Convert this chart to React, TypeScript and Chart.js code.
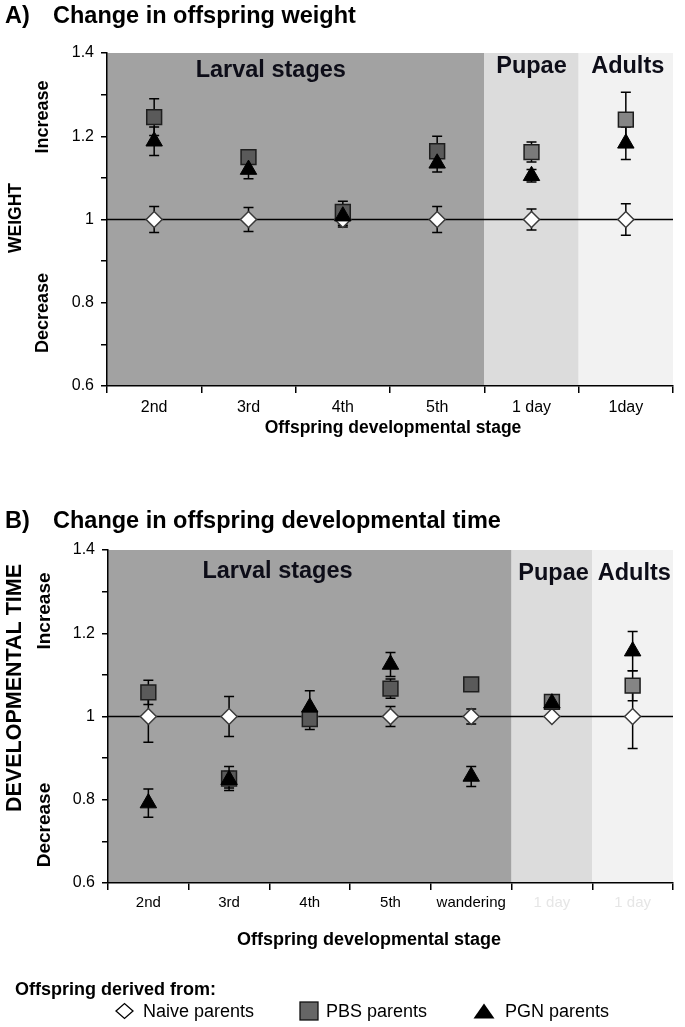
import React, { useEffect, useRef } from 'react';
import { Chart, registerables } from 'chart.js';

Chart.register(...registerables);

const FONT = "'Liberation Sans', Arial, Helvetica, sans-serif";

// ---------- Panel A: offspring weight ----------
const weightCategories = ['2nd', '3rd', '4th', '5th', '1 day', '1day'];
const weightNaive = [1, 1, 1, 1, 1, 1];
const weightNaiveErr = [0.031, 0.029, 0.018, 0.031, 0.025, 0.038];
const weightPBS = [1.246, 1.15, 1.018, 1.164, 1.162, 1.24];
const weightPBSErr = [0.044, 0.017, 0.026, 0.036, 0.024, 0.066];
const weightPGN = [1.188, 1.12, 1.008, 1.135, 1.105, 1.183];
const weightPGNErr = [0.034, 0.022, 0.022, 0.021, 0.015, 0.039];
const weightStageSpans = [4, 1, 1];

// ---------- Panel B: developmental time ----------
const devCategories = ['2nd', '3rd', '4th', '5th', 'wandering', '1 day', '1 day'];
const devNaive = [1, 1, 1, 1, 1, 1, 1];
const devNaiveErr = [0.062, 0.048, 0.022, 0.024, 0.018, 0.006, 0.077];
const devPBS = [1.058, 0.851, 0.994, 1.067, 1.077, 1.035, 1.074];
const devPBSErr = [0.029, 0.029, 0.025, 0.023, 0.014, 0.01, 0.036];
const devPGN = [0.792, 0.848, 1.022, 1.125, 0.856, 1.032, 1.157];
const devPGNErr = [0.034, 0.02, 0.04, 0.029, 0.024, 0.01, 0.047];
const devStageSpans = [5, 1, 1];

// ---------- shared ----------
const stageNames = ['Larval stages', 'Pupae', 'Adults'];
const seriesNames = ['Naive parents', 'PBS parents', 'PGN parents'];
const yTickMin = 0.6;
const yTickMax = 1.4;
const yTickStep = 0.1;

const STAGE_COLORS = ['#a2a2a2', '#dcdcdc', '#f2f2f2'];
const PBS_FILLS = ['#5a5a5a', '#7a7a7a', '#858585'];

type PanelProps = {
  top: number;
  height: number;
  area: { left: number; top: number; right: number; bottom: number };
  categories: string[];
  naive: number[];
  naiveErr: number[];
  pbs: number[];
  pbsErr: number[];
  pgn: number[];
  pgnErr: number[];
  spans: number[];
  tickColors: string[];
  catFont: number;
  catPad: number;
  title: { letter: string; text: string; baseline: number };
  stageLabel: { fracs: number[]; dy: number[] };
  yTitle: { text: string; x: number; cy: number; size: number };
  incr: { x: number; cyInc: number; cyDec: number; size: number };
  xTitle: { cx: number; baseline: number; size: number };
  legend?: { baseline: number; itemBaseline: number; markerY: number };
};

function vText(ctx: CanvasRenderingContext2D, text: string, x: number, cy: number, font: string) {
  ctx.save();
  ctx.translate(x, cy);
  ctx.rotate(-Math.PI / 2);
  ctx.font = font;
  ctx.textAlign = 'center';
  ctx.textBaseline = 'middle';
  ctx.fillStyle = '#000';
  ctx.fillText(text, 0, 0);
  ctx.restore();
}

function stageOf(spans: number[], index: number) {
  let acc = 0;
  for (let k = 0; k < spans.length; k++) {
    acc += spans[k];
    if (index < acc) return k;
  }
  return spans.length - 1;
}

function Panel(p: PanelProps) {
  const ref = useRef<HTMLCanvasElement>(null);

  useEffect(() => {
    const canvas = ref.current;
    if (!canvas) return;
    const errs = [p.naiveErr, p.pbsErr, p.pgnErr];

    const bgPlugin = {
      id: 'stageBg',
      beforeDraw(chart: any) {
        const { ctx, chartArea: a, scales } = chart;
        const x = scales.x;
        const n = chart.data.labels.length;
        const w = (a.right - a.left) / n;
        let start = 0;
        ctx.save();
        p.spans.forEach((span, k) => {
          const x0 = x.getPixelForValue(start) - w / 2;
          const x1 = x.getPixelForValue(start + span - 1) + w / 2;
          ctx.fillStyle = STAGE_COLORS[k];
          ctx.fillRect(x0, a.top, x1 - x0, a.bottom - a.top);
          start += span;
        });
        ctx.restore();
      },
    };

    const errPlugin = {
      id: 'errBars',
      beforeDatasetsDraw(chart: any) {
        const { ctx, chartArea: a, scales } = chart;
        const x = scales.x;
        const y = scales.y;
        ctx.save();
        ctx.strokeStyle = '#000';
        ctx.lineWidth = 1.5;
        const y1 = y.getPixelForValue(1);
        ctx.beginPath();
        ctx.moveTo(a.left, y1);
        ctx.lineTo(a.right, y1);
        ctx.stroke();
        chart.data.datasets.forEach((ds: any, di: number) => {
          ds.data.forEach((v: number, i: number) => {
            const e = errs[di][i];
            const px = x.getPixelForValue(i);
            const t = y.getPixelForValue(v + e);
            const b = y.getPixelForValue(v - e);
            ctx.beginPath();
            ctx.moveTo(px, t);
            ctx.lineTo(px, b);
            ctx.moveTo(px - 5, t);
            ctx.lineTo(px + 5, t);
            ctx.moveTo(px - 5, b);
            ctx.lineTo(px + 5, b);
            ctx.stroke();
          });
        });
        ctx.restore();
      },
    };

    const textPlugin = {
      id: 'texts',
      afterDraw(chart: any) {
        const { ctx, chartArea: a, scales } = chart;
        const x = scales.x;
        const n = chart.data.labels.length;
        const w = (a.right - a.left) / n;
        ctx.save();
        ctx.fillStyle = '#000';
        // panel title
        ctx.font = `bold 23.5px ${FONT}`;
        ctx.textAlign = 'left';
        ctx.textBaseline = 'alphabetic';
        ctx.fillText(p.title.letter, 5, p.title.baseline);
        ctx.fillText(p.title.text, 53, p.title.baseline);
        // stage labels
        ctx.fillStyle = '#0d0d18';
        ctx.textAlign = 'center';
        let start = 0;
        p.spans.forEach((span, k) => {
          const x0 = x.getPixelForValue(start) - w / 2;
          const x1 = x.getPixelForValue(start + span - 1) + w / 2;
          const cx = x0 + (x1 - x0) * p.stageLabel.fracs[k];
          ctx.fillText(stageNames[k], cx, a.top + p.stageLabel.dy[k]);
          start += span;
        });
        ctx.fillStyle = '#000';
        // x title
        ctx.font = `bold ${p.xTitle.size}px ${FONT}`;
        ctx.fillText('Offspring developmental stage', p.xTitle.cx, p.xTitle.baseline);
        // y titles
        vText(ctx, p.yTitle.text, p.yTitle.x, p.yTitle.cy, `bold ${p.yTitle.size}px ${FONT}`);
        vText(ctx, 'Increase', p.incr.x, p.incr.cyInc, `bold ${p.incr.size}px ${FONT}`);
        vText(ctx, 'Decrease', p.incr.x, p.incr.cyDec, `bold ${p.incr.size}px ${FONT}`);

        // legend
        if (p.legend) {
          const L = p.legend;
          ctx.textAlign = 'left';
          ctx.font = `bold 18px ${FONT}`;
          ctx.fillText('Offspring derived from:', 15, L.baseline);
          const my = L.markerY;
          // diamond
          ctx.beginPath();
          ctx.moveTo(116, my);
          ctx.lineTo(124.5, my - 7.5);
          ctx.lineTo(133, my);
          ctx.lineTo(124.5, my + 7.5);
          ctx.closePath();
          ctx.fillStyle = '#fff';
          ctx.fill();
          ctx.strokeStyle = '#000';
          ctx.lineWidth = 1.3;
          ctx.stroke();
          // square
          ctx.fillStyle = '#666';
          ctx.fillRect(300, my - 9, 18, 18);
          ctx.strokeStyle = '#111';
          ctx.strokeRect(300, my - 9, 18, 18);
          // triangle
          ctx.beginPath();
          ctx.moveTo(484, my - 7.5);
          ctx.lineTo(494.5, my + 7.5);
          ctx.lineTo(473.5, my + 7.5);
          ctx.closePath();
          ctx.fillStyle = '#000';
          ctx.fill();
          ctx.font = `18px ${FONT}`;
          ctx.fillText(seriesNames[0], 143, L.itemBaseline);
          ctx.fillText(seriesNames[1], 326, L.itemBaseline);
          ctx.fillText(seriesNames[2], 505, L.itemBaseline);
        }
        ctx.restore();
      },
    };

    const chart = new Chart(canvas, {
      type: 'line',
      data: {
        labels: p.categories,
        datasets: [
          {
            label: seriesNames[0],
            data: p.naive,
            showLine: false,
            order: 3,
            pointStyle: 'rectRot',
            pointRadius: 8,
            pointHoverRadius: 8,
            pointBackgroundColor: '#ffffff',
            pointBorderColor: '#3a3a3a',
            pointBorderWidth: 1.5,
          },
          {
            label: seriesNames[1],
            data: p.pbs,
            showLine: false,
            order: 2,
            pointStyle: 'rect',
            pointRadius: 10.5,
            pointHoverRadius: 10.5,
            pointBackgroundColor: (c: any) => PBS_FILLS[stageOf(p.spans, c.dataIndex ?? 0)],
            pointBorderColor: '#1e1e1e',
            pointBorderWidth: 1.5,
          },
          {
            label: seriesNames[2],
            data: p.pgn,
            showLine: false,
            order: 1,
            pointStyle: 'triangle',
            pointRadius: 9.5,
            pointHoverRadius: 9.5,
            pointBackgroundColor: '#000',
            pointBorderColor: '#000',
            pointBorderWidth: 1,
          },
        ],
      } as any,
      options: {
        responsive: false,
        animation: false,
        devicePixelRatio: 1,
        events: [],
        layout: { padding: { top: p.area.top, right: 685 - p.area.right, left: 0, bottom: 0 } },
        plugins: { legend: { display: false }, tooltip: { enabled: false }, title: { display: false } },
        scales: {
          x: {
            type: 'category',
            offset: true,
            grid: { offset: true, drawOnChartArea: false, drawTicks: true, tickLength: 7, color: '#000', lineWidth: 1.5 },
            border: { display: true, color: '#000', width: 1.5 },
            ticks: {
              color: (c: any) => p.tickColors[c.index] || '#000',
              font: { family: FONT, size: p.catFont },
              padding: p.catPad,
              maxRotation: 0,
              autoSkip: false,
            },
            afterFit: (s: any) => {
              s.height = p.height - p.area.bottom;
            },
          },
          y: {
            min: yTickMin,
            max: yTickMax,
            grid: { drawOnChartArea: false, drawTicks: true, tickLength: 6, color: '#000', lineWidth: 1.5 },
            border: { display: true, color: '#000', width: 1.5 },
            ticks: {
              stepSize: yTickStep,
              autoSkip: false,
              padding: 7,
              color: '#000',
              font: { family: FONT, size: 16 },
              callback: (v: any) => {
                const r = Math.round(Number(v) * 10);
                return r % 2 === 0 ? String(r / 10) : '';
              },
            },
            afterFit: (s: any) => {
              s.width = p.area.left;
            },
          },
        },
      } as any,
      plugins: [bgPlugin, errPlugin, textPlugin],
    });
    return () => chart.destroy();
  }, []);

  return (
    <canvas
      ref={ref}
      width={685}
      height={p.height}
      style={{ position: 'absolute', left: 0, top: p.top, width: 685, height: p.height, display: 'block' }}
    />
  );
}

export default function App() {
  return (
    <div style={{ position: 'absolute', left: 0, top: 0, width: 685, height: 1027, background: '#fff', overflow: 'hidden' }}>
      <Panel
        top={0}
        height={460}
        area={{ left: 107, top: 53, right: 673, bottom: 386 }}
        categories={weightCategories}
        naive={weightNaive}
        naiveErr={weightNaiveErr}
        pbs={weightPBS}
        pbsErr={weightPBSErr}
        pgn={weightPGN}
        pgnErr={weightPGNErr}
        spans={weightStageSpans}
        tickColors={['#000', '#000', '#000', '#000', '#000', '#000']}
        catFont={16}
        catPad={5}
        title={{ letter: 'A)', text: 'Change in offspring weight', baseline: 23 }}
        stageLabel={{ fracs: [0.434, 0.5, 0.52], dy: [24, 20, 20] }}
        yTitle={{ text: 'WEIGHT', x: 16, cy: 218, size: 17.5 }}
        incr={{ x: 43, cyInc: 117, cyDec: 313, size: 18 }}
        xTitle={{ cx: 393, baseline: 433, size: 17.5 }}
      />
      <Panel
        top={460}
        height={567}
        area={{ left: 108, top: 90, right: 679, bottom: 423 }}
        categories={devCategories}
        naive={devNaive}
        naiveErr={devNaiveErr}
        pbs={devPBS}
        pbsErr={devPBSErr}
        pgn={devPGN}
        pgnErr={devPGNErr}
        spans={devStageSpans}
        tickColors={['#000', '#000', '#000', '#000', '#000', '#e6e6e6', '#e6e6e6']}
        catFont={15}
        catPad={4}
        title={{ letter: 'B)', text: 'Change in offspring developmental time', baseline: 68 }}
        stageLabel={{ fracs: [0.42, 0.52, 0.52], dy: [28, 30, 30] }}
        yTitle={{ text: 'DEVELOPMENTAL TIME', x: 15, cy: 228, size: 21.5 }}
        incr={{ x: 45, cyInc: 151, cyDec: 365, size: 19 }}
        xTitle={{ cx: 369, baseline: 485, size: 18 }}
        legend={{ baseline: 535, itemBaseline: 557, markerY: 551 }}
      />
    </div>
  );
}
